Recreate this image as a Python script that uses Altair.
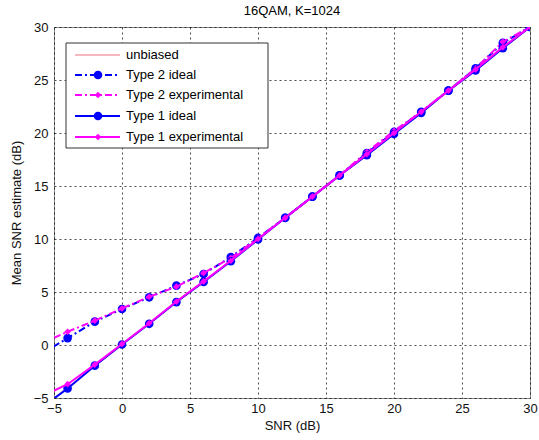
import altair as alt
import pandas as pd

# ---- data ----
snr = [-6, -4, -2, 0, 2, 4, 6, 8, 10, 12, 14, 16, 18, 20, 22, 24, 26, 28, 30]
type2_ideal = [-0.9, 0.65, 2.2, 3.4, 4.5, 5.6, 6.7, 8.3, 10.1, 12.0, 14.0, 16.0, 18.1, 20.1, 22.0, 24.0, 26.1, 28.5, 30.0]
type2_exp = [0.1, 1.25, 2.3, 3.45, 4.55, 5.5, 6.8, 8.2, 10.1, 12.0, 14.0, 16.0, 18.2, 20.2, 22.0, 24.0, 26.1, 28.6, 30.0]
type1_ideal = [-6.0, -4.1, -1.95, 0.05, 2.0, 4.05, 5.95, 7.9, 9.95, 12.0, 14.0, 16.0, 17.9, 19.9, 21.9, 24.0, 25.9, 28.0, 30.0]
type1_exp = [-4.9, -3.7, -1.85, 0.1, 2.05, 4.1, 6.0, 7.95, 10.0, 12.0, 14.0, 16.0, 18.0, 20.0, 22.0, 24.0, 26.0, 28.1, 30.0]
unbiased_x = [-5, 30]
unbiased_y = [-5, 30]
ticks = [-5, 0, 5, 10, 15, 20, 25, 30]
legend_labels = ["unbiased", "Type 2 ideal", "Type 2 experimental", "Type 1 ideal", "Type 1 experimental"]

BLUE = "#0000ff"
MAG = "#ff00ff"
RED = "#f07080"
FONT = "Liberation Sans"

xs = alt.Scale(domain=[-5, 30], nice=False, zero=False)
ys = alt.Scale(domain=[-5, 30], nice=False, zero=False)
common_axis = dict(
    values=ticks, grid=True, domain=False, ticks=False, labelFlush=False,
    gridColor="#000000", gridDash=[2, 3], gridOpacity=0.7, gridWidth=1,
    labelFont=FONT, labelFontSize=13, labelColor="#111111",
    titleFont=FONT, titleFontSize=13, titleFontWeight="normal", titleColor="#111111",
)
xax = alt.Axis(title="SNR (dB)", labelPadding=4, titlePadding=4, **common_axis)
yax = alt.Axis(title="Mean SNR estimate (dB)", labelPadding=6, titlePadding=10, **common_axis)


def series_layers(yvals, color, dash, shape, size, width):
    df = pd.DataFrame({"x": snr, "y": yvals})
    base = alt.Chart(df)
    line_kw = dict(color=color, strokeWidth=width, clip=True)
    if dash:
        line_kw["strokeDash"] = dash
    line = base.mark_line(**line_kw).encode(
        x=alt.X("x:Q", scale=xs, axis=xax), y=alt.Y("y:Q", scale=ys, axis=yax)
    )
    pts = base.mark_point(shape=shape, filled=True, color=color, size=size, opacity=1, clip=True).encode(
        x=alt.X("x:Q", scale=xs), y=alt.Y("y:Q", scale=ys)
    )
    return [line, pts]


unb = alt.Chart(pd.DataFrame({"x": unbiased_x, "y": unbiased_y})).mark_line(
    color=RED, strokeWidth=1, clip=True
).encode(x=alt.X("x:Q", scale=xs, axis=xax), y=alt.Y("y:Q", scale=ys, axis=yax))

layers = [unb]
layers += series_layers(type2_ideal, BLUE, [7, 3, 2, 3], "circle", 75, 2)
layers += series_layers(type2_exp, MAG, [7, 3, 2, 3], "diamond", 45, 2)
layers += series_layers(type1_ideal, BLUE, None, "circle", 75, 2)
layers += series_layers(type1_exp, MAG, None, "diamond", 45, 2)

# ---- MATLAB-style legend box ----
box = alt.Chart(pd.DataFrame({"a": [0]})).mark_rect(
    fill="white", stroke="#333333", strokeWidth=1
).encode(x=alt.value(12), x2=alt.value(214), y=alt.value(16), y2=alt.value(121))
layers.append(box)

legend_style = [
    (RED, None, None, 0, 1),
    (BLUE, [7, 3, 2, 3], "circle", 75, 2),
    (MAG, [7, 3, 2, 3], "diamond", 45, 2),
    (BLUE, None, "circle", 75, 2),
    (MAG, None, "diamond", 45, 2),
]
row_y = [28, 48, 68, 89, 110]
for lab, (col, dash, shape, size, w), yy in zip(legend_labels, legend_style, row_y):
    d = pd.DataFrame({"label": [lab]})
    rk = dict(color=col, strokeWidth=w)
    if dash:
        rk["strokeDash"] = dash
    layers.append(alt.Chart(d).mark_rule(**rk).encode(
        x=alt.value(21), x2=alt.value(66), y=alt.value(yy)))
    if shape:
        layers.append(alt.Chart(d).mark_point(shape=shape, filled=True, color=col, size=size, opacity=1).encode(
            x=alt.value(44), y=alt.value(yy)))
    layers.append(alt.Chart(d).mark_text(
        align="left", baseline="middle", font=FONT, fontSize=13, color="black"
    ).encode(x=alt.value(72), y=alt.value(yy), text="label:N"))

chart = alt.layer(*layers).properties(
    width=476,
    height=371,
    padding={"left": 54, "top": 27, "right": 9, "bottom": 42},
    autosize=alt.AutoSizeParams(type="none"),
    background="white",
    title=alt.TitleParams("16QAM, K=1024", font=FONT, fontSize=13, fontWeight="normal",
                          color="black", anchor="middle", offset=3),
).configure_view(
    stroke="#888888", strokeWidth=1
)

chart.save("out.html", embed_options={"renderer": "svg", "actions": False})
